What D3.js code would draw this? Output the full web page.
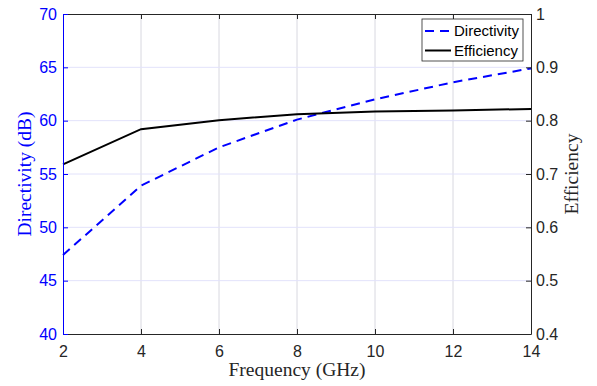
<!DOCTYPE html>
<html>
<head>
<meta charset="utf-8">
<script src="https://cdn.jsdelivr.net/npm/d3@7"></script>
<style>
body { margin: 0; background: #fff; }
svg { display: block; }
</style>
</head>
<body>
<div id="chart"></div>
<script>
// values
const freq = [2, 4, 6, 8, 10, 12, 14]
const directivity = [47.4, 53.9, 57.5, 60.1, 62.0, 63.6, 64.9]
const efficiency = [0.718, 0.784, 0.801, 0.812, 0.817, 0.819, 0.822]

const xTicks = [2, 4, 6, 8, 10, 12, 14]
const leftTicks = [40, 45, 50, 55, 60, 65, 70]
const rightTicks = [0.4, 0.5, 0.6, 0.7, 0.8, 0.9, 1]

const W = 597, H = 386
const margin = {left: 63, right: 66, top: 14, bottom: 52}
const blue = "#0000ff"
const dark = "#262626"

const svg = d3.select("#chart").append("svg")
	.attr("width", W)
	.attr("height", H)

const x = d3.scaleLinear().domain([2, 14]).range([margin.left, W - margin.right])
const yL = d3.scaleLinear().domain([40, 70]).range([H - margin.bottom, margin.top])
const yR = d3.scaleLinear().domain([0.4, 1]).range([H - margin.bottom, margin.top])

const x0 = margin.left, x1 = W - margin.right
const y0 = H - margin.bottom, y1 = margin.top

// grid
svg.append("g")
	.selectAll("line")
	.data(xTicks.slice(1, -1))
	.join("line")
	.attr("x1", d => x(d)).attr("x2", d => x(d))
	.attr("y1", y0).attr("y2", y1)
	.attr("stroke", "#d8d8e0")
	.attr("stroke-width", 1)

svg.append("g")
	.selectAll("line")
	.data(leftTicks.slice(1, -1))
	.join("line")
	.attr("x1", x0).attr("x2", x1)
	.attr("y1", d => yL(d)).attr("y2", d => yL(d))
	.attr("stroke", "#e2e2fb")
	.attr("stroke-width", 1)

// lines
const lineD = d3.line().x((d, i) => x(freq[i])).y(d => yL(d))
const lineE = d3.line().x((d, i) => x(freq[i])).y(d => yR(d))

svg.append("path")
	.datum(directivity)
	.attr("d", lineD)
	.attr("fill", "none")
	.attr("stroke", blue)
	.attr("stroke-width", 2)
	.attr("stroke-dasharray", "9,6")

svg.append("path")
	.datum(efficiency)
	.attr("d", lineE)
	.attr("fill", "none")
	.attr("stroke", "#000")
	.attr("stroke-width", 2)

// axes
const tickFont = "'Liberation Sans', Arial, sans-serif"
const labelFont = "'Liberation Serif', 'Times New Roman', serif"

const xAxis = svg.append("g")
	.attr("transform", `translate(0,${y0})`)
	.call(d3.axisBottom(x).tickValues(xTicks).tickSizeInner(-5).tickSizeOuter(0).tickPadding(12))
xAxis.select(".domain").attr("stroke", dark)
xAxis.selectAll(".tick line").attr("stroke", dark)
xAxis.selectAll("text").attr("fill", dark).style("font-family", tickFont).style("font-size", "16px")

const xTop = svg.append("g")
	.attr("transform", `translate(0,${y1})`)
	.call(d3.axisTop(x).tickValues(xTicks).tickSizeInner(-5).tickSizeOuter(0).tickFormat(""))
xTop.select(".domain").attr("stroke", dark)
xTop.selectAll(".tick line").attr("stroke", dark)

const leftAxis = svg.append("g")
	.attr("transform", `translate(${x0},0)`)
	.call(d3.axisLeft(yL).tickValues(leftTicks).tickSizeInner(-5).tickSizeOuter(0).tickPadding(6))
leftAxis.select(".domain").attr("stroke", blue)
leftAxis.selectAll(".tick line").attr("stroke", blue)
leftAxis.selectAll("text").attr("fill", blue).style("font-family", tickFont).style("font-size", "16px")

const rightAxis = svg.append("g")
	.attr("transform", `translate(${x1},0)`)
	.call(d3.axisRight(yR).tickValues(rightTicks).tickSizeInner(-5).tickSizeOuter(0).tickPadding(5).tickFormat(d3.format("~g")))
rightAxis.select(".domain").attr("stroke", dark)
rightAxis.selectAll(".tick line").attr("stroke", dark)
rightAxis.selectAll("text").attr("fill", dark).style("font-family", tickFont).style("font-size", "16px")

// axis labels
svg.append("text")
	.attr("x", (x0 + x1) / 2)
	.attr("y", 376)
	.attr("text-anchor", "middle")
	.attr("fill", dark)
	.style("font-family", labelFont)
	.style("font-size", "19.5px")
	.text("Frequency (GHz)")

svg.append("text")
	.attr("transform", `translate(31,${(y0 + y1) / 2}) rotate(-90)`)
	.attr("text-anchor", "middle")
	.attr("fill", blue)
	.style("font-family", labelFont)
	.style("font-size", "19.5px")
	.text("Directivity (dB)")

svg.append("text")
	.attr("transform", `translate(578,${(y0 + y1) / 2}) rotate(-90)`)
	.attr("text-anchor", "middle")
	.attr("fill", dark)
	.style("font-family", labelFont)
	.style("font-size", "19.5px")
	.text("Efficiency")

// legend
const legendItems = [
	{name: "Directivity", color: blue, dash: "9,6"},
	{name: "Efficiency", color: "#000", dash: null}
]
const legend = svg.append("g").attr("transform", "translate(422,19)")
legend.append("rect")
	.attr("width", 101).attr("height", 42)
	.attr("fill", "#fff")
	.attr("stroke", dark)
	.attr("stroke-width", 0.8)

const item = legend.selectAll("g.item")
	.data(legendItems)
	.join("g")
	.attr("class", "item")
	.attr("transform", (d, i) => `translate(0,${12 + i * 19.5})`)

item.append("line")
	.attr("x1", 3).attr("x2", 29)
	.attr("stroke", d => d.color)
	.attr("stroke-width", 2)
	.attr("stroke-dasharray", d => d.dash)

item.append("text")
	.attr("x", 32)
	.attr("dy", "0.35em")
	.attr("fill", "#000")
	.style("font-family", tickFont)
	.style("font-size", "15px")
	.text(d => d.name)
</script>
</body>
</html>
